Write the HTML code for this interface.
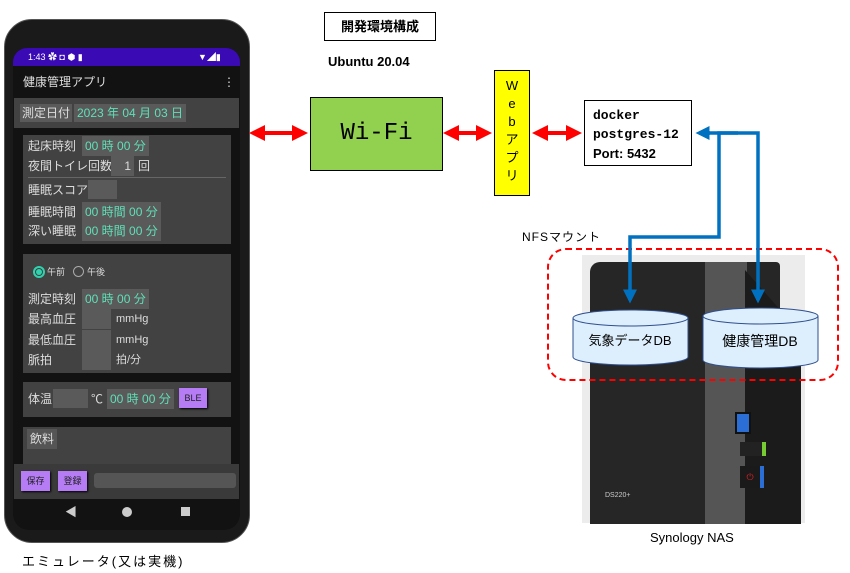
<!DOCTYPE html>
<html><head><meta charset="utf-8"><style>
body{margin:0;width:850px;height:573px;background:#fff;position:relative;overflow:hidden;font-family:"Liberation Sans","Noto Sans CJK JP",sans-serif}
.a{position:absolute}
.t{color:#ddd;font-size:12px;line-height:18px;height:18px;white-space:nowrap}
.g{color:#5fe0b8;background:#5a5a5a;font-size:12px;line-height:18px;height:18px;white-space:nowrap}
.box{background:#5a5a5a}
.btn{background:#b57cf5;color:#222;font-size:9px;text-align:center;box-shadow:1px 1px 2px #000}
</style></head><body>
<!-- phone -->
<div class="a" style="left:4px;top:19px;width:244px;height:522px;background:#1a1a1a;border-radius:28px;border:1px solid #555"></div>
<div class="a" style="left:13px;top:48px;width:227px;height:482px;background:#121212;border-radius:14px 14px 16px 16px;overflow:hidden">
 <div class="a" style="left:0;top:0;width:227px;height:18px;background:#3a0ab5"></div>
 <div class="a" style="left:15px;top:3px;color:#fff;font-size:9px;line-height:12px">1:43 ✿ ◘ ⬢ ▮</div>
 <div class="a" style="left:185px;top:3px;color:#fff;font-size:9px;line-height:12px">▼◢▮</div>
 <div class="a t" style="left:10px;top:25px">健康管理アプリ</div>
 <div class="a t" style="left:210px;top:25px">⋮</div>
 <div class="a" style="left:1px;top:50px;width:225px;height:30px;background:#424242"></div>
 <div class="a t box" style="left:7px;top:56px;padding:0 2px">測定日付</div>
 <div class="a g" style="left:61px;top:56px;padding:0 3px">2023 年 04 月 03 日</div>
 <div class="a" style="left:10px;top:87px;width:208px;height:109px;background:#424242"></div>
 <div class="a t" style="left:15px;top:89px">起床時刻</div><div class="a g" style="left:69px;top:88px;padding:1px 3px">00 時 00 分</div>
 <div class="a t" style="left:15px;top:109px">夜間トイレ回数</div><div class="a box" style="left:98px;top:108px;width:20px;height:20px;color:#ddd;font-size:12px;line-height:20px;text-align:right;padding-right:3px">1</div><div class="a t" style="left:125px;top:109px">回</div>
 <div class="a" style="left:15px;top:129px;width:198px;height:1px;background:#666"></div>
 <div class="a t" style="left:15px;top:133px">睡眠スコア</div><div class="a box" style="left:75px;top:132px;width:29px;height:19px"></div>
 <div class="a t" style="left:15px;top:155px">睡眠時間</div><div class="a g" style="left:69px;top:154px;padding:1px 3px">00 時間 00 分</div>
 <div class="a t" style="left:15px;top:174px">深い睡眠</div><div class="a g" style="left:69px;top:173px;padding:1px 3px">00 時間 00 分</div>
 <div class="a" style="left:10px;top:206px;width:208px;height:119px;background:#424242"></div>
 <div class="a" style="left:20px;top:218px;width:8px;height:8px;border:2px solid #2fd3b0;border-radius:50%"></div><div class="a" style="left:23px;top:221px;width:6px;height:6px;background:#2fd3b0;border-radius:50%"></div>
 <div class="a t" style="left:34px;top:215px;font-size:9px">午前</div>
 <div class="a" style="left:60px;top:218px;width:9px;height:9px;border:1.5px solid #aaa;border-radius:50%"></div>
 <div class="a t" style="left:74px;top:215px;font-size:9px">午後</div>
 <div class="a t" style="left:15px;top:242px">測定時刻</div><div class="a g" style="left:69px;top:241px;padding:1px 3px">00 時 00 分</div>
 <div class="a t" style="left:15px;top:262px">最高血圧</div><div class="a box" style="left:69px;top:261px;width:29px;height:20px"></div><div class="a t" style="left:103px;top:262px;font-size:11px">mmHg</div>
 <div class="a t" style="left:15px;top:283px">最低血圧</div><div class="a box" style="left:69px;top:282px;width:29px;height:20px"></div><div class="a t" style="left:103px;top:283px;font-size:11px">mmHg</div>
 <div class="a t" style="left:15px;top:303px">脈拍</div><div class="a box" style="left:69px;top:302px;width:29px;height:20px"></div><div class="a t" style="left:103px;top:303px;font-size:11px">拍/分</div>
 <div class="a" style="left:10px;top:334px;width:208px;height:35px;background:#424242"></div>
 <div class="a t" style="left:15px;top:342px">体温</div><div class="a box" style="left:40px;top:341px;width:35px;height:19px"></div><div class="a t" style="left:78px;top:342px">℃</div>
 <div class="a g" style="left:94px;top:341px;padding:1px 3px">00 時 00 分</div>
 <div class="a btn" style="left:166px;top:340px;width:28px;height:20px;line-height:20px">BLE</div>
 <div class="a" style="left:10px;top:379px;width:208px;height:37px;background:#424242"></div>
 <div class="a t" style="left:14px;top:381px;padding:1px 3px;background:#555">飲料</div>
 <div class="a" style="left:1px;top:416px;width:225px;height:35px;background:#3a3a3a"></div>
 <div class="a btn" style="left:8px;top:423px;width:29px;height:20px;line-height:20px">保存</div>
 <div class="a btn" style="left:45px;top:423px;width:29px;height:20px;line-height:20px">登録</div>
 <div class="a" style="left:81px;top:425px;width:142px;height:15px;background:#555;border-radius:3px"></div>
 <div class="a" style="left:52px;top:456px;color:#ccc;font-size:12px;line-height:16px">◀</div>
 <div class="a" style="left:109px;top:459px;width:10px;height:10px;background:#ccc;border-radius:50%"></div>
 <div class="a" style="left:168px;top:459px;width:9px;height:9px;background:#ccc"></div>
</div>
<div class="a" style="left:22px;top:551px;font-size:13px;letter-spacing:2px">エミュレータ(又は実機)</div>
<!-- title -->
<div class="a" style="left:324px;top:12px;width:110px;height:27px;border:1px solid #000;font-size:13px;font-weight:bold;text-align:center;line-height:27px">開発環境構成</div>
<div class="a" style="left:328px;top:54px;font-size:13px;font-weight:bold">Ubuntu 20.04</div>
<div class="a" style="left:310px;top:97px;width:131px;height:72px;background:#92d050;border:1px solid #000;font-family:'Liberation Mono',monospace;font-size:24px;text-align:center;line-height:72px">Wi-Fi</div>
<div class="a" style="left:494px;top:70px;width:36px;height:126px;background:#ff0;border:1px solid #000;font-size:13px;text-align:center;line-height:18px;padding-top:6px;box-sizing:border-box">W<br>e<br>b<br>ア<br>プ<br>リ</div>
<div class="a" style="left:584px;top:100px;width:108px;height:66px;border:1px solid #000;font-family:'Liberation Mono',monospace;font-size:13px;font-weight:bold;line-height:19px;padding:5px 0 0 8px;box-sizing:border-box">docker<br>postgres-12<br><span style="font-family:'Liberation Sans'">Port: 5432</span></div>
<div class="a" style="left:522px;top:228px;font-size:12px;letter-spacing:1px">NFSマウント</div>
<!-- NAS -->
<div class="a" style="left:582px;top:255px;width:223px;height:268px;background:#ececec"></div>
<div class="a" style="left:590px;top:262px;width:190px;height:262px;background:#262626;border-radius:10px 4px 0 0"></div>
<div class="a" style="left:705px;top:262px;width:42px;height:262px;background:#555"></div>
<div class="a" style="left:745px;top:270px;width:56px;height:254px;background:#1b1b1b;clip-path:polygon(0 0,100% 25%,100% 100%,0 100%)"></div>
<div class="a" style="left:735px;top:412px;width:12px;height:18px;background:#2b6fd6;border:2px solid #111"></div>
<div class="a" style="left:740px;top:442px;width:22px;height:14px;background:#222;border-right:4px solid #7c3"></div>
<div class="a" style="left:740px;top:466px;width:20px;height:22px;background:#1a1a1a;border-right:4px solid #2b6fd6;color:#d22;font-size:9px;text-align:center;line-height:22px">⏻</div>
<div class="a" style="left:605px;top:492px;color:#ccc;font-size:7px">DS220+</div>
<div class="a" style="left:650px;top:530px;font-size:13px">Synology NAS</div>
<svg class="a" style="left:0;top:0" width="850" height="573">
 <defs><marker id="r" markerWidth="4" markerHeight="4" refX="3" refY="2" orient="auto-start-reverse"><path d="M0,0L4,2L0,4z" fill="#f00"/></marker>
 <marker id="b" markerWidth="4" markerHeight="4" refX="3" refY="2" orient="auto"><path d="M0,0L4,2L0,4z" fill="#0070c0"/></marker></defs>
 <g stroke="#f00" stroke-width="4" marker-start="url(#r)" marker-end="url(#r)">
  <line x1="253" y1="133" x2="304" y2="133"/><line x1="447" y1="133" x2="488" y2="133"/><line x1="536" y1="133" x2="578" y2="133"/></g>
 <rect x="548" y="249" width="290" height="131" rx="18" fill="none" stroke="#f00" stroke-width="2" stroke-dasharray="6,4"/>
 <g fill="#ddeefc" stroke="#2f4f8f" stroke-width="1">
  <path d="M573,318 V357 A57.5,8 0 0 0 688,357 V318"/><ellipse cx="630.5" cy="318" rx="57.5" ry="8"/>
  <path d="M703,316 V360 A57.5,8 0 0 0 818,360 V316"/><ellipse cx="760.5" cy="316" rx="57.5" ry="8"/></g>
 <g fill="none" stroke="#0070c0" stroke-width="3.5">
  <polyline points="738,133 719,133 719,237 630,237 630,300" marker-end="url(#b)"/>
  <polyline points="700,133 758,133 758,300" marker-end="url(#b)"/>
  <line x1="710" y1="133" x2="699" y2="133" marker-end="url(#b)"/></g>
 <text x="630" y="345" font-size="13" text-anchor="middle" font-family="Liberation Sans,Noto Sans CJK JP,sans-serif">気象データDB</text>
 <text x="760" y="346" font-size="14" text-anchor="middle" font-family="Liberation Sans,Noto Sans CJK JP,sans-serif">健康管理DB</text>
</svg>
</body></html>
